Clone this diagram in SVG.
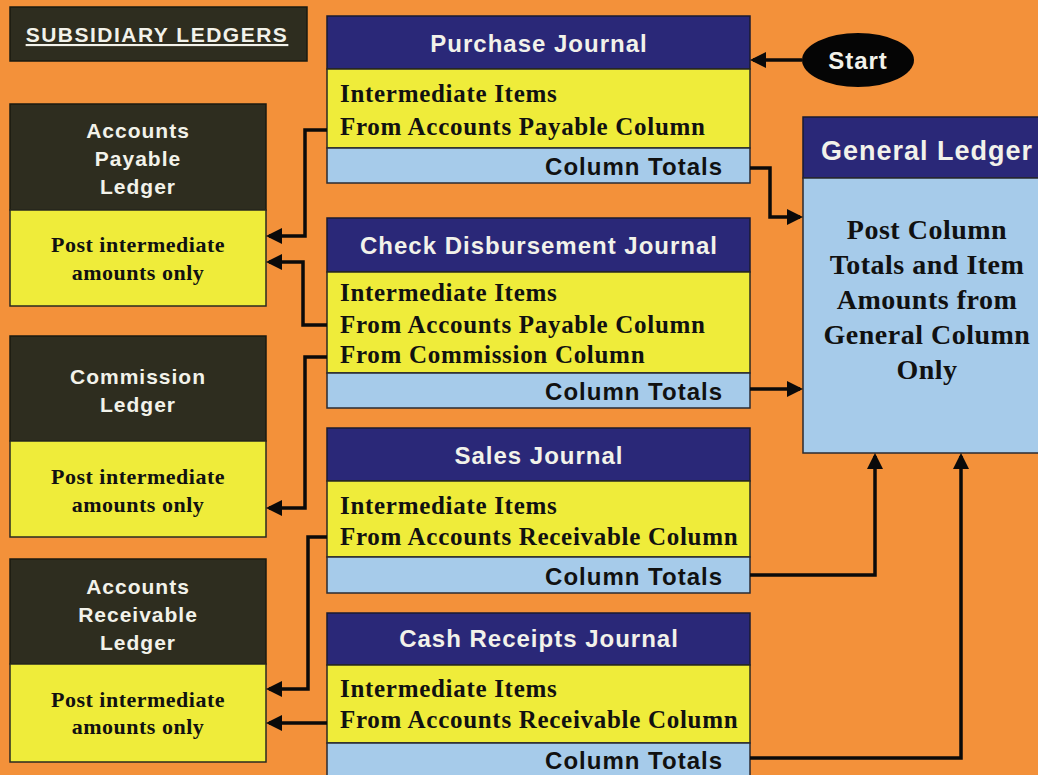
<svg xmlns="http://www.w3.org/2000/svg" width="1038" height="775" viewBox="0 0 1038 775">
<defs>
<style>
.bg{fill:#F3913A}
.dark{fill:#2E2D1F;stroke:#1a1a10;stroke-width:1.5}
.navy{fill:#2A2878;stroke:#1a1a30;stroke-width:1.5}
.yel{fill:#EFEC3A;stroke:#2a2a20;stroke-width:1.5}
.blue{fill:#A6CBEA;stroke:#2a2a30;stroke-width:1.5}
.hw{font-family:"Liberation Sans",Arial,sans-serif;font-weight:bold;fill:#F2F2EA;text-anchor:middle}
.jt{font-size:24px;letter-spacing:1px}
.lt{font-size:21px;letter-spacing:1px}
.body{font-family:"Liberation Serif","Times New Roman",serif;font-weight:bold;fill:#111}
.jb{font-size:25px;letter-spacing:0.7px}
.lb{font-size:22px;letter-spacing:0.5px;text-anchor:middle}
.gb{font-size:28px;letter-spacing:0.5px;text-anchor:middle}
.ct{font-family:"Liberation Sans",Arial,sans-serif;font-weight:bold;fill:#111;font-size:24px;letter-spacing:1px;text-anchor:end}
.conn{fill:none;stroke:#0a0a0a;stroke-width:3.5;marker-end:url(#arr)}
</style>
<marker id="arr" viewBox="0 0 16 16" refX="13" refY="8" markerWidth="16" markerHeight="16" markerUnits="userSpaceOnUse" orient="auto">
<path d="M0,0 L16,8 L0,16 z" fill="#0a0a0a"/>
</marker>
</defs>
<rect class="bg" x="0" y="0" width="1038" height="775"/>

<g id="title">
<rect class="dark" x="10" y="7" width="297" height="54"/>
<text class="hw" x="157" y="42" font-size="21" letter-spacing="1.5" text-decoration="underline">SUBSIDIARY LEDGERS</text>
</g>

<g id="ap-ledger">
<rect class="dark" x="10" y="104" width="256" height="106"/>
<rect class="yel" x="10" y="210" width="256" height="96"/>
<text class="hw lt" x="138" y="138">Accounts</text>
<text class="hw lt" x="138" y="166">Payable</text>
<text class="hw lt" x="138" y="194">Ledger</text>
<text class="body lb" x="138" y="252">Post intermediate</text>
<text class="body lb" x="138" y="280">amounts only</text>
</g>

<g id="commission-ledger">
<rect class="dark" x="10" y="336" width="256" height="105"/>
<rect class="yel" x="10" y="441" width="256" height="96"/>
<text class="hw lt" x="138" y="384">Commission</text>
<text class="hw lt" x="138" y="412">Ledger</text>
<text class="body lb" x="138" y="484">Post intermediate</text>
<text class="body lb" x="138" y="512">amounts only</text>
</g>

<g id="ar-ledger">
<rect class="dark" x="10" y="559" width="256" height="105"/>
<rect class="yel" x="10" y="664" width="256" height="98"/>
<text class="hw lt" x="138" y="594">Accounts</text>
<text class="hw lt" x="138" y="622">Receivable</text>
<text class="hw lt" x="138" y="650">Ledger</text>
<text class="body lb" x="138" y="707">Post intermediate</text>
<text class="body lb" x="138" y="734">amounts only</text>
</g>

<g id="purchase-journal">
<rect class="navy" x="327" y="16" width="423" height="53"/>
<rect class="yel" x="327" y="69" width="423" height="79"/>
<rect class="blue" x="327" y="148" width="423" height="35"/>
<text class="hw jt" x="539" y="52">Purchase Journal</text>
<text class="body jb" x="340" y="102">Intermediate Items</text>
<text class="body jb" x="340" y="135">From Accounts Payable Column</text>
<text class="ct" x="723" y="175">Column Totals</text>
</g>

<g id="check-disbursement-journal">
<rect class="navy" x="327" y="218" width="423" height="54"/>
<rect class="yel" x="327" y="272" width="423" height="101"/>
<rect class="blue" x="327" y="373" width="423" height="35"/>
<text class="hw jt" x="539" y="254">Check Disbursement Journal</text>
<text class="body jb" x="340" y="301">Intermediate Items</text>
<text class="body jb" x="340" y="333">From Accounts Payable Column</text>
<text class="body jb" x="340" y="363">From Commission Column</text>
<text class="ct" x="723" y="400">Column Totals</text>
</g>

<g id="sales-journal">
<rect class="navy" x="327" y="428" width="423" height="53"/>
<rect class="yel" x="327" y="481" width="423" height="76"/>
<rect class="blue" x="327" y="557" width="423" height="36"/>
<text class="hw jt" x="539" y="464">Sales Journal</text>
<text class="body jb" x="340" y="514">Intermediate Items</text>
<text class="body jb" x="340" y="545">From Accounts Receivable Column</text>
<text class="ct" x="723" y="585">Column Totals</text>
</g>

<g id="cash-receipts-journal">
<rect class="navy" x="327" y="613" width="423" height="52"/>
<rect class="yel" x="327" y="665" width="423" height="78"/>
<rect class="blue" x="327" y="743" width="423" height="40"/>
<text class="hw jt" x="539" y="647">Cash Receipts Journal</text>
<text class="body jb" x="340" y="697">Intermediate Items</text>
<text class="body jb" x="340" y="728">From Accounts Receivable Column</text>
<text class="ct" x="723" y="769">Column Totals</text>
</g>

<g id="general-ledger">
<rect class="navy" x="803" y="117" width="245" height="61"/>
<rect class="blue" x="803" y="178" width="245" height="275"/>
<text class="hw" x="927" y="160" font-size="27" letter-spacing="1">General Ledger</text>
<text class="body gb" x="927" y="239">Post Column</text>
<text class="body gb" x="927" y="274">Totals and Item</text>
<text class="body gb" x="927" y="309">Amounts from</text>
<text class="body gb" x="927" y="344">General Column</text>
<text class="body gb" x="927" y="379">Only</text>
</g>

<g id="start">
<ellipse cx="858" cy="60" rx="56" ry="27" fill="#050505"/>
<text class="hw" x="858" y="69" font-size="24" letter-spacing="1">Start</text>
</g>

<g id="connectors">
<path class="conn" d="M802,60 H753"/>
<path class="conn" d="M750,168 H770 V217 H800"/>
<path class="conn" d="M750,389 H800"/>
<path class="conn" d="M750,575 H875 V456"/>
<path class="conn" d="M750,758 H961 V456"/>
<path class="conn" d="M327,130 H305 V236 H269"/>
<path class="conn" d="M327,325 H303 V262 H269"/>
<path class="conn" d="M327,357 H305 V508 H269"/>
<path class="conn" d="M327,537 H308 V689 H269"/>
<path class="conn" d="M327,723 H269"/>
</g>
</svg>
